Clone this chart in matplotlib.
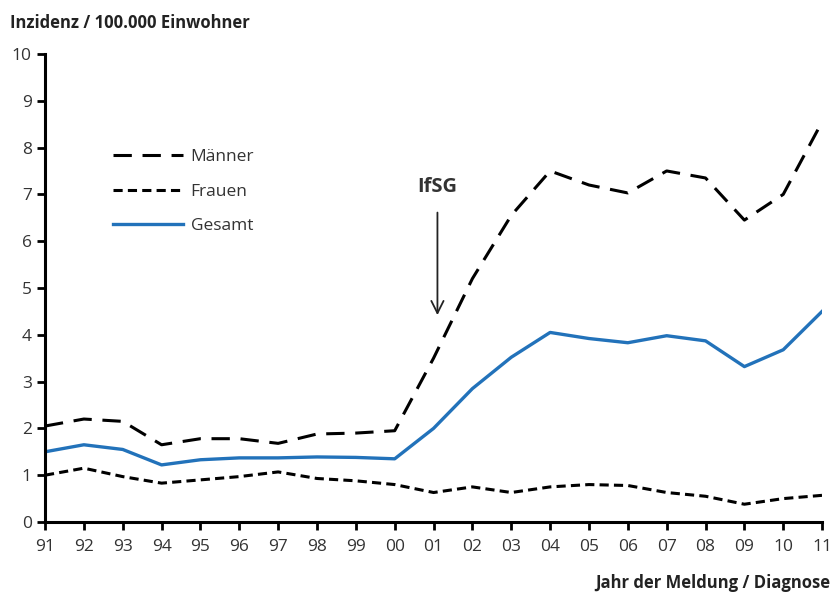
import matplotlib.pyplot as plt

plt.rcParams['font.family'] = ['Open Sans', 'DejaVu Sans']

years = ["91", "92", "93", "94", "95", "96", "97", "98", "99", "00",
         "01", "02", "03", "04", "05", "06", "07", "08", "09", "10", "11"]
maenner = [2.05, 2.2, 2.15, 1.65, 1.78, 1.78, 1.68, 1.88, 1.9, 1.95,
           3.5, 5.2, 6.55, 7.5, 7.2, 7.03, 7.5, 7.35, 6.45, 7.0, 8.55]
frauen = [1.0, 1.15, 0.97, 0.83, 0.9, 0.97, 1.07, 0.93, 0.88, 0.8,
          0.63, 0.75, 0.63, 0.75, 0.8, 0.78, 0.63, 0.55, 0.38, 0.5, 0.57]
gesamt = [1.5, 1.65, 1.55, 1.22, 1.33, 1.37, 1.37, 1.39, 1.38, 1.35,
          2.0, 2.85, 3.52, 4.05, 3.92, 3.83, 3.98, 3.87, 3.32, 3.68, 4.5]

blue = "#2272ba"
x = list(range(len(years)))

fig = plt.figure(figsize=(8.32, 5.94), dpi=100)
ax = fig.add_axes([0.0541, 0.1212, 0.934, 0.788])

ax.plot(x, maenner, color="black", lw=2.2, linestyle=(0, (6, 3.5)), label="Männer")
ax.plot(x, frauen, color="black", lw=2.2, linestyle=(0, (3, 1.7)), label="Frauen")
ax.plot(x, gesamt, color=blue, lw=2.4, label="Gesamt")

ax.set_xlim(0, len(years) - 1)
ax.set_ylim(0, 10)
ax.set_xticks(x)
ax.set_xticklabels(years)
ax.set_yticks(range(0, 11))

for s in ["top", "right"]:
    ax.spines[s].set_visible(False)
for s in ["left", "bottom"]:
    ax.spines[s].set_linewidth(2.2)
ax.tick_params(axis="both", width=2, length=6, labelsize=12.5, colors="black",
               labelcolor="#333333")
ax.tick_params(axis="x", pad=6)

leg = ax.legend(loc="upper left", bbox_to_anchor=(0.068, 0.83), frameon=False,
                handlelength=4.0, fontsize=12.5, labelcolor="#333333",
                labelspacing=1.05, handletextpad=0.45)

# IfSG annotation
ax.annotate("", xy=(10.1, 4.36), xytext=(10.1, 6.67),
            arrowprops=dict(arrowstyle="->", color="#222222", lw=1.3,
                            mutation_scale=22))
ax.text(10.1, 7.16, "IfSG", ha="center", va="center", fontsize=14.5,
        fontweight="bold", color="#333333")

fig.text(0.012, 0.962, "Inzidenz / 100.000 Einwohner", fontsize=12,
         fontweight="bold", color="#222222", va="center")
fig.text(0.998, 0.018, "Jahr der Meldung / Diagnose", fontsize=12,
         fontweight="bold", color="#222222", ha="right", va="center")

fig.savefig("out.png", dpi=100)
